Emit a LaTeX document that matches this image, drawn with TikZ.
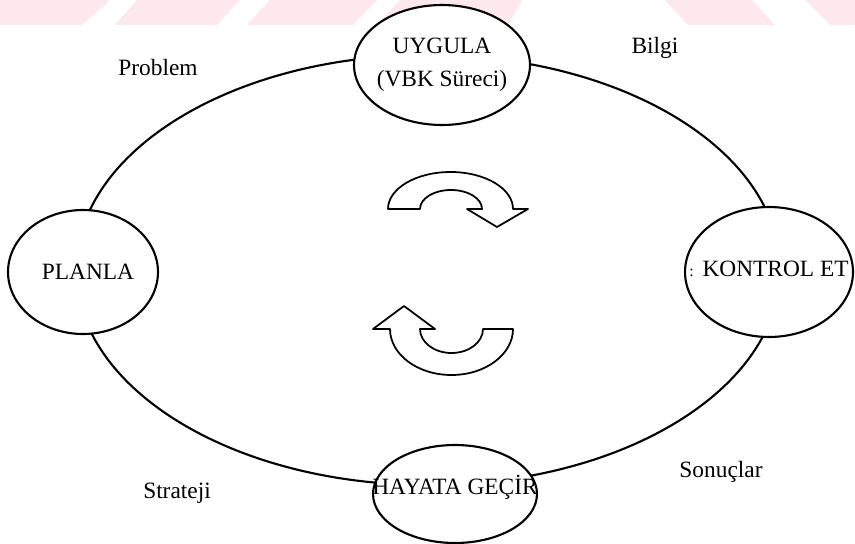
\documentclass[tikz,border=0pt]{standalone}
\usepackage{fontspec}
\setmainfont{Liberation Serif}
\usetikzlibrary{shapes.geometric}

\definecolor{wmpink}{RGB}{253,232,237}

\begin{document}
\begin{tikzpicture}[
  x=0.02cm, y=-0.02cm,
  font=\fontsize{13.3}{19}\selectfont,
  stage/.style={draw, ellipse, fill=white, line width=1.2pt, inner sep=0pt},
  turn/.style={draw, fill=white, line width=1pt, line join=round},
  lbl/.style={inner sep=1pt}]
\useasboundingbox (0,0) rectangle (855,544);
% faint band along the top edge
\fill[wmpink] (0,0) -- (110,0) -- (82,25) -- (0,25) -- cycle;
\fill[wmpink] (137,0) -- (240,0) -- (217,25) -- (115,25) -- cycle;
\fill[wmpink] (270,0) -- (377,0) -- (353,25) -- (247,25) -- cycle;
\fill[wmpink] (400,0) -- (522,0) -- (508,25) -- (377,25) -- cycle;
\fill[wmpink] (665,0) -- (752,0) -- (775,25) -- (688,25) -- cycle;
\fill[wmpink] (805,0) -- (855,0) -- (855,25) -- (830,25) -- cycle;
% the cycle
\draw[line width=1.2pt] (428,270) ellipse [x radius=352, y radius=215];
\node[stage, minimum width=3.52cm, minimum height=2.4cm,
  label={[align=center]center:{UYGULA\\(VBK Süreci)}}] (uygula) at (442,65) {};
\node[stage, minimum width=3cm, minimum height=2.48cm,
  label={[xshift=0.1cm]center:PLANLA}] (planla) at (83,272) {};
\node[stage, minimum width=3.36cm, minimum height=2.6cm,
  label={[yshift=0.06cm]center:{{\small :}\hspace{5pt}KONTROL ET}}] (kontrol) at (769,272) {};
\node[stage, minimum width=3.28cm, minimum height=1.96cm,
  label={[yshift=0.14cm]center:HAYATA GEÇİR}] (hayata) at (455,494) {};
% words between the stages
\node[lbl] (problem) at (158,68) {Problem};
\node[lbl] (bilgi) at (655,48) {Bilgi};
\node[lbl] (sonuclar) at (721,472) {Sonuçlar};
\node[lbl] (strateji) at (177,493) {Strateji};
% turning arrows in the middle
\draw[turn] (388,209) -- (420,209)
  arc[start angle=180, end angle=360, x radius=31, y radius=19]
  -- (467,209) -- (497,227) -- (528,209) -- (513,209)
  arc[start angle=0, end angle=-180, x radius=62.5, y radius=37] -- cycle;
\draw[turn] (513,329) -- (483,329)
  arc[start angle=0, end angle=180, x radius=31.5, y radius=24]
  -- (435,329) -- (404,306) -- (373,329) -- (390,329)
  arc[start angle=180, end angle=0, x radius=61.5, y radius=46] -- cycle;
\end{tikzpicture}
\end{document}
